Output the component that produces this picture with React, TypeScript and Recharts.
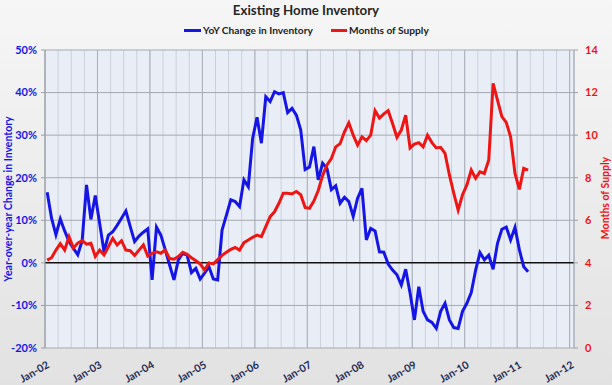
import { LineChart, Line, XAxis, YAxis, CartesianGrid, ReferenceLine } from "recharts";

const yearLabels = ["Jan-02", "Jan-03", "Jan-04", "Jan-05", "Jan-06", "Jan-07", "Jan-08", "Jan-09", "Jan-10", "Jan-11", "Jan-12"];
const leftTicks = [-20, -10, 0, 10, 20, 30, 40, 50];
const rightTicks = [0, 2, 4, 6, 8, 10, 12, 14];

// monthly, Jan-02 .. Mar-11
const yoyChange = [
  16.6, 10.5, 6.6, 10.3, 7.5, 5.0, 3.4, 1.9, 5.2, 18.3,
  10.2, 15.8, 9.3, 2.6, 6.5, 7.3, 8.8, 10.5, 12.2, 8.5,
  5.0, 6.3, 7.2, 8.0, -4.0, 8.4, 6.5, 3.1, -0.5, -4.0,
  0.7, 2.2, 1.8, -2.3, -1.3, -3.8, -2.4, -0.9, -3.8, -4.0,
  7.7, 11.2, 14.8, 14.4, 13.2, 19.5, 17.9, 29.3, 34.2, 28.1,
  39.0, 37.9, 40.2, 39.7, 40.0, 35.3, 36.3, 34.7, 31.2, 21.9,
  22.5, 27.3, 19.5, 23.4, 22.2, 17.2, 18.1, 14.0, 15.4, 14.4,
  10.9, 15.2, 17.5, 5.4, 8.1, 7.5, 2.6, 2.5, -0.3, -1.7,
  -2.8, -5.2, -1.5, -7.1, -13.4, -5.6, -11.4, -13.4, -14.0, -15.4,
  -11.4, -9.5, -13.4, -15.2, -15.4, -11.4, -9.5, -7.0, -1.7, 2.4,
  0.7, 1.8, -1.5, 4.6, 7.9, 8.4, 5.4, 8.3, 3.1, -0.9, -2.1,
];

const monthsSupply = [
  4.13, 4.24, 4.6, 4.9, 4.6, 5.23, 4.7, 4.93, 5.05, 4.88,
  4.92, 4.3, 4.6, 4.37, 4.76, 5.15, 4.84, 5.04, 4.6, 4.57,
  4.35, 4.6, 4.84, 4.32, 4.45, 4.52, 4.45, 4.6, 4.2, 4.17,
  4.3, 4.5, 4.4, 4.24, 4.1, 3.95, 3.66, 4.0, 3.95, 4.15,
  4.35, 4.5, 4.63, 4.72, 4.6, 4.95, 5.07, 5.2, 5.3, 5.23,
  5.7, 6.17, 6.4, 6.8, 7.27, 7.27, 7.24, 7.35, 7.2, 6.6,
  6.56, 6.9, 7.4, 8.1, 8.6, 8.9, 9.45, 9.6, 10.16, 10.58,
  10.0, 9.53, 9.92, 9.74, 10.0, 11.15, 10.8, 11.0, 11.15, 10.55,
  9.9, 10.24, 10.94, 9.4, 9.58, 9.65, 9.45, 10.0, 9.65, 9.4,
  9.43, 9.14, 8.13, 7.27, 6.48, 7.2, 7.66, 8.36, 7.97, 8.28,
  8.2, 8.83, 12.43, 11.65, 10.87, 10.6, 9.92, 8.2, 7.45, 8.44, 8.36,
];

const data = yoyChange.map((v, i) => ({ t: i + 0.5, yoy: v, supply: monthsSupply[i] }));
const quarterTicks = Array.from({ length: 41 }, (_, i) => i * 3);
const yearTicks = yearLabels.map((_, i) => i * 12);

const font = "Lato, 'Open Sans', sans-serif";
const blue = "#1515e6";
const red = "#ee1515";

function XTick(props: any) {
  const { x, y, payload } = props;
  if (payload.value % 12 !== 0) return <g />;
  return (
    <text
      x={0}
      y={0}
      textAnchor="end"
      transform={`translate(${x + 5},${y + 19}) rotate(-30)`}
      fill="#1c2a55"
      fontSize={10.5}
      fontWeight={700}
      fontFamily={font}
    >
      {yearLabels[payload.value / 12]}
    </text>
  );
}

export default function App() {
  return (
    <div
      style={{
        position: "absolute",
        left: 0,
        top: 0,
        width: 612,
        height: 385,
        background: "linear-gradient(#f6f6f6, #e2e2e2)",
        fontFamily: font,
      }}
    >
      <div style={{ position: "absolute", top: 2, width: 612, textAlign: "center", fontSize: 13.3, fontWeight: 700, color: "#262626" }}>
        Existing Home Inventory
      </div>
      <div style={{ position: "absolute", top: 24, left: 184, fontSize: 10.2, fontWeight: 700, color: "#222", display: "flex", alignItems: "center", whiteSpace: "nowrap" }}>
        <span style={{ display: "inline-block", width: 17, height: 3, background: blue, marginRight: 2 }} />
        YoY Change in Inventory
        <span style={{ display: "inline-block", width: 16, height: 3, background: red, marginLeft: 18, marginRight: 2 }} />
        Months of Supply
      </div>
      <div style={{ position: "absolute", left: 8, top: 199, width: 0, height: 0 }}>
        <div style={{ position: "absolute", transform: "translate(-50%,-50%) rotate(-90deg)", whiteSpace: "nowrap", fontSize: 10.5, fontWeight: 700, color: blue }}>
          Year-over-year Change in Inventory
        </div>
      </div>
      <div style={{ position: "absolute", left: 605, top: 198, width: 0, height: 0 }}>
        <div style={{ position: "absolute", transform: "translate(-50%,-50%) rotate(-90deg)", whiteSpace: "nowrap", fontSize: 10.5, fontWeight: 700, color: red }}>
          Months of Supply
        </div>
      </div>
      <LineChart width={612} height={385} data={data} margin={{ top: 50, right: 0, bottom: 0, left: 0 }}>
        <CartesianGrid yAxisId="left" horizontal={false} stroke="#cad0db" fill="#e9eef6" fillOpacity={1} />
        <XAxis
          type="number"
          dataKey="t"
          domain={[0, 121]}
          ticks={quarterTicks}
          interval={0}
          tick={<XTick />}
          tickLine={false}
          tickSize={0}
          tickMargin={0}
          axisLine={false}
          height={37}
          allowDataOverflow
        />
        <YAxis
          yAxisId="left"
          domain={[-20, 50]}
          ticks={leftTicks}
          tickFormatter={(v) => `${v}%`}
          width={45}
          tick={{ fill: blue, fontSize: 11, fontWeight: 700, fontFamily: font }}
          axisLine={{ stroke: "#9c9fa6" }}
          tickLine={{ stroke: "#9c9fa6" }}
          tickSize={4}
          tickMargin={4}
        />
        <YAxis
          yAxisId="right"
          orientation="right"
          domain={[0, 14]}
          ticks={rightTicks}
          width={38}
          tick={{ fill: red, fontSize: 11, fontWeight: 700, fontFamily: font }}
          axisLine={{ stroke: "#9c9fa6" }}
          tickLine={{ stroke: "#9c9fa6" }}
          tickSize={4}
          tickMargin={7}
        />
        {yearTicks.map((t) => (
          <ReferenceLine key={`x${t}`} yAxisId="left" x={t} stroke="#a9aeb9" />
        ))}
        {leftTicks
          .filter((v) => v !== 0)
          .map((v) => (
            <ReferenceLine key={`y${v}`} yAxisId="left" y={v} stroke="#a6a9b0" />
          ))}
        <ReferenceLine yAxisId="left" y={0} stroke="#111" strokeWidth={1.5} />
        <Line yAxisId="left" type="linear" dataKey="yoy" stroke={blue} strokeWidth={3} dot={false} isAnimationActive={false} />
        <Line yAxisId="right" type="linear" dataKey="supply" stroke={red} strokeWidth={3} dot={false} isAnimationActive={false} />
      </LineChart>
    </div>
  );
}
